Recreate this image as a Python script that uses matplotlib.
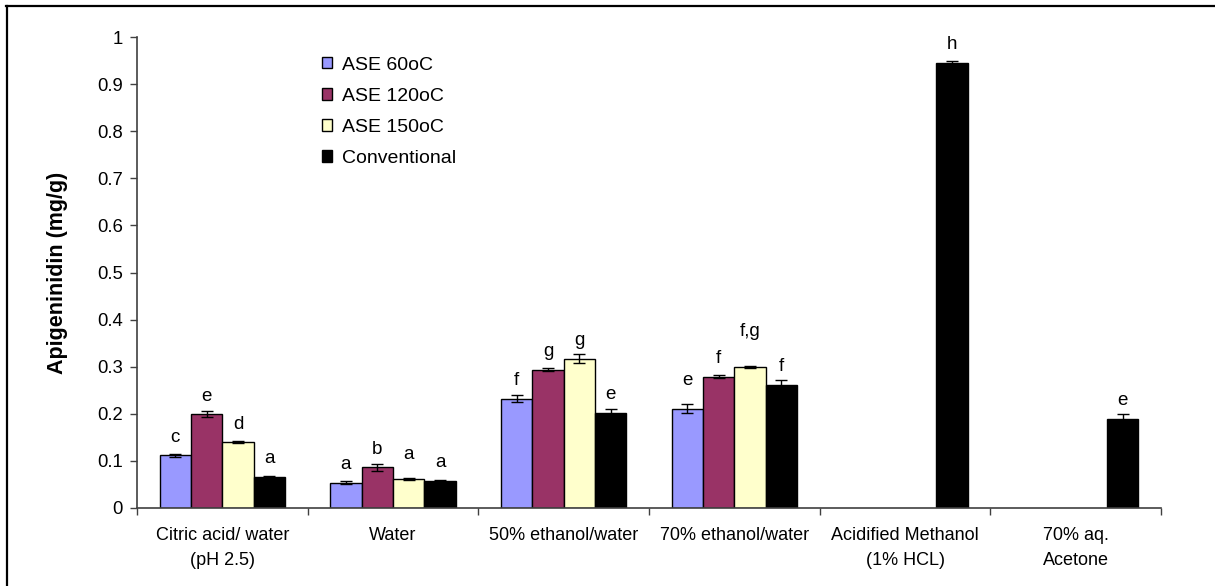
import numpy as np
import matplotlib.pyplot as plt
from matplotlib.lines import Line2D
from matplotlib.ticker import FixedLocator, NullFormatter

plt.rcParams['font.family'] = ['Liberation Sans', 'DejaVu Sans']

categories = ["Citric acid/ water\n(pH 2.5)", "Water", "50% ethanol/water",
              "70% ethanol/water", "Acidified Methanol\n(1% HCL)", "70% aq.\nAcetone"]
series_names = ["ASE 60oC", "ASE 120oC", "ASE 150oC", "Conventional"]

nan = np.nan
ase60 = [0.112, 0.054, 0.232, 0.211, nan, nan]
ase120 = [0.199, 0.086, 0.294, 0.279, nan, nan]
ase150 = [0.140, 0.062, 0.317, 0.300, nan, nan]
conventional = [0.066, 0.058, 0.202, 0.262, 0.945, 0.190]

ase60_err = [0.0035, 0.003, 0.008, 0.009, nan, nan]
ase120_err = [0.006, 0.0065, 0.003, 0.003, nan, nan]
ase150_err = [0.002, 0.002, 0.0095, 0.002, nan, nan]
conventional_err = [0.002, 0.002, 0.009, 0.009, 0.005, 0.009]

# significance letters, one row per series
ase60_letters = ["c", "a", "f", "e", "", ""]
ase120_letters = ["e", "b", "g", "f", "", ""]
ase150_letters = ["d", "a", "g", "f,g", "", ""]
conventional_letters = ["a", "a", "e", "f", "h", "e"]

colors = ["#9999FF", "#993366", "#FFFFCC", "#000000"]

values = [ase60, ase120, ase150, conventional]
errors = [ase60_err, ase120_err, ase150_err, conventional_err]
letters = [ase60_letters, ase120_letters, ase150_letters, conventional_letters]

# a few letters sit a little higher than the rest (pixels)
extra_lift = {(1, 2): 6, (3, 0): 10, (3, 2): 17}

fig = plt.figure(figsize=(12.15, 5.86), dpi=100)
ax = fig.add_axes([137 / 1215, 1 - 508 / 586, 1024 / 1215, 471 / 586])

x = np.arange(len(categories))
width = 0.184
for i, (vals, errs, labs, color) in enumerate(zip(values, errors, letters, colors)):
    pos = x + (i - 1.5) * width
    ax.bar(pos, vals, width, color=color, edgecolor="black", linewidth=1,
           label=series_names[i], zorder=2)
    ax.errorbar(pos, vals, yerr=errs, fmt="none", ecolor="black", elinewidth=1,
                capsize=4, capthick=1, zorder=3)
    for j, (p, v, lab) in enumerate(zip(pos, vals, labs)):
        if not lab or np.isnan(v):
            continue
        lift = 18 + extra_lift.get((j, i), 0)
        ax.annotate(lab, (p, v), xytext=(0, lift * 0.72), textcoords="offset points",
                    ha="center", va="center", fontsize=13.5)

ax.set_xlim(-0.5, len(categories) - 0.5)
ax.set_ylim(0, 1)
ax.set_yticks(np.arange(0, 1.01, 0.1))
ax.set_yticklabels(["0"] + [f"{v:.1f}" for v in np.arange(0.1, 0.95, 0.1)] + ["1"])

# boundary ticks between categories, labels centred under each group
ax.xaxis.set_major_locator(FixedLocator(np.arange(-0.5, len(categories), 1.0)))
ax.xaxis.set_major_formatter(NullFormatter())
ax.xaxis.set_minor_locator(FixedLocator(x))
ax.set_xticklabels(categories, minor=True, linespacing=1.55)
ax.tick_params(axis="x", which="major", direction="out", length=5, width=1, color="#404040")
ax.tick_params(axis="x", which="minor", length=0, pad=14, labelsize=13)
ax.tick_params(axis="y", direction="out", length=5, width=1, color="#404040",
               labelsize=13.3, pad=5)

ax.spines["top"].set_visible(False)
ax.spines["right"].set_visible(False)
for side in ["left", "bottom"]:
    ax.spines[side].set_color("#404040")
    ax.spines[side].set_linewidth(1.2)

ax.set_ylabel("Apigeninidin (mg/g)", fontsize=15.5, fontweight="bold", labelpad=21)

ax.legend(loc="upper left", bbox_to_anchor=(304 / 1215, 1 - 39 / 586),
          bbox_transform=fig.transFigure, frameon=False, fontsize=14,
          handlelength=0.55, handleheight=0.55, handletextpad=0.5, labelspacing=0.73)

# frame lines along the top and left edge
fig.add_artist(Line2D([6 / 1215, 1], [1 - 6 / 586, 1 - 6 / 586],
                      transform=fig.transFigure, color="black", linewidth=1.6))
fig.add_artist(Line2D([6.5 / 1215, 6.5 / 1215], [0, 1 - 6 / 586],
                      transform=fig.transFigure, color="black", linewidth=1.6))

fig.savefig("out.png", dpi=100)
